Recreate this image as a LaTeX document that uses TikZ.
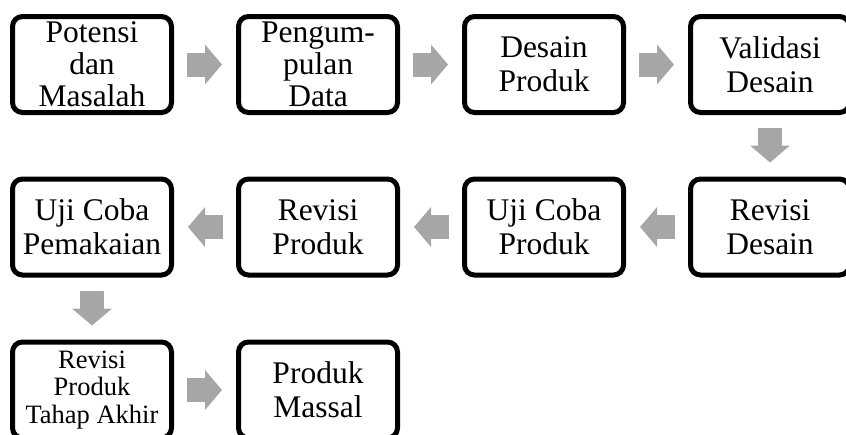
\documentclass[tikz,border=0pt]{standalone}
\usepackage{fontspec}
\setmainfont{Liberation Serif}
\usetikzlibrary{arrows.meta, positioning}
\usepackage{xcolor}
\definecolor{flowgray}{RGB}{166,166,166}

\begin{document}
\begin{tikzpicture}[x=1pt, y=-1pt]
  \tikzset{
    stage/.style={
      draw,
      line width=5pt,
      rounded corners=10pt,
      minimum width=159pt,
      minimum height=96pt,
      inner sep=0pt,
      align=center,
      anchor=center,
      fill=white,
      font=\fontsize{31.5}{34}\selectfont
    },
    stagetall/.style={
      stage,
      font=\fontsize{31.5}{32}\selectfont
    },
    stagesmall/.style={
      stage,
      font=\fontsize{26.5}{27.5}\selectfont
    },
    flow/.style={
      draw=flowgray,
      line width=24pt,
      -{Triangle[width=39pt, length=17pt]},
      shorten <=13pt,
      shorten >=14pt
    }
  }
  \useasboundingbox (0,0) rectangle (846,434);

  % First row of stages
    \node[stagetall] at (92, 64.5) (potensi) {Potensi\\dan\\Masalah};
    \node[stagetall] at (318, 64.5) (data) {Pengum-\\pulan\\Data};
    \node[stage] at (544, 64.5) (desain) {Desain\\Produk};
    \node[stage] at (770, 64.5) (validasi) {Validasi\\Desain};

  % Second row, read right to left
    \node[stage] at (770, 227) (revdesain) {Revisi\\Desain};
    \node[stage] at (544, 227) (ujiproduk) {Uji Coba\\Produk};
    \node[stage] at (318, 227) (revproduk) {Revisi\\Produk};
    \node[stage] at (92, 227) (ujipakai) {Uji Coba\\Pemakaian};

  % Last row
    \node[stagesmall] at (92, 390) (revakhir) {Revisi\\Produk\\Tahap Akhir};
    \node[stage] at (318, 390) (massal) {Produk\\Massal};

  % Block arrows between the stages
    \draw[flow] (potensi) -- (data);
    \draw[flow] (data) -- (desain);
    \draw[flow] (desain) -- (validasi);
    \draw[flow] (validasi) -- (revdesain);
    \draw[flow] (revdesain) -- (ujiproduk);
    \draw[flow] (ujiproduk) -- (revproduk);
    \draw[flow] (revproduk) -- (ujipakai);
    \draw[flow] (ujipakai) -- (revakhir);
    \draw[flow] (revakhir) -- (massal);

\end{tikzpicture}
\end{document}
